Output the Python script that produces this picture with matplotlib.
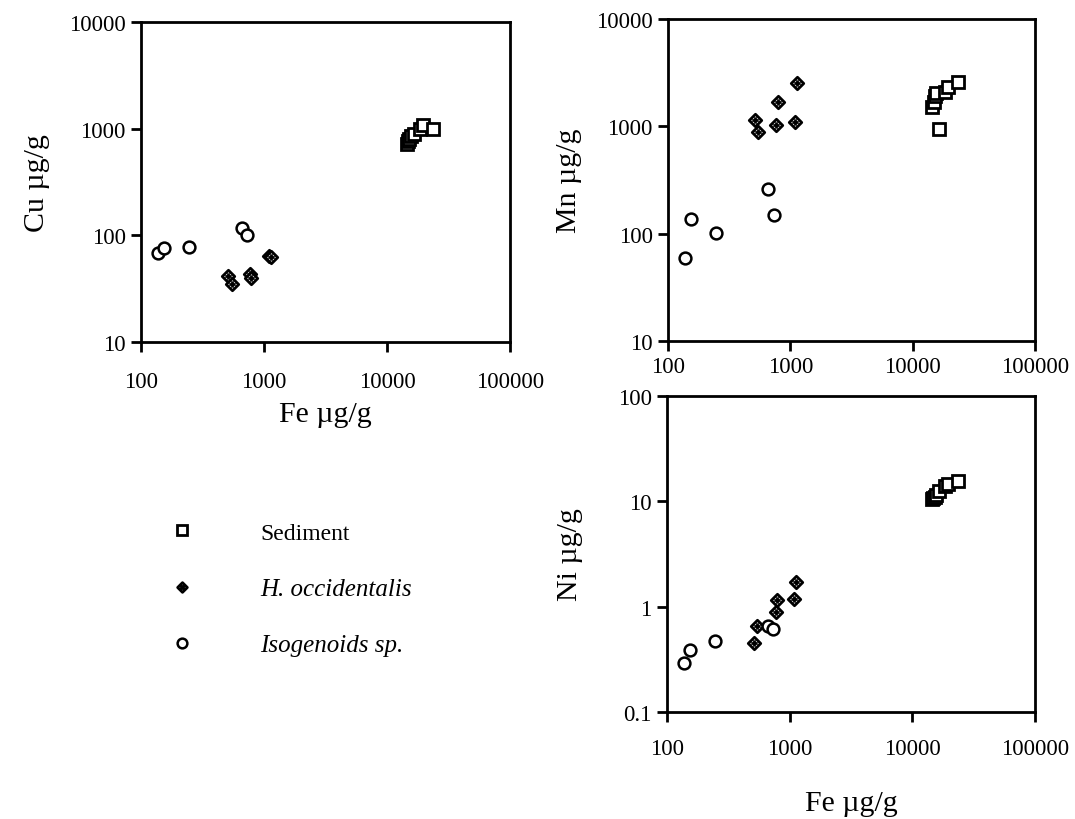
import matplotlib
matplotlib.use("Agg")
import matplotlib.pyplot as plt
from matplotlib.path import Path
from matplotlib.lines import Line2D
from matplotlib.ticker import FixedLocator, FixedFormatter, NullLocator

plt.rcParams['font.family'] = ['Liberation Serif', 'DejaVu Serif']

# ---------------- data ----------------
fe_sed = [14500, 14800, 15200, 15600, 16500, 18500, 19500, 23500]
cu_sed = [720, 760, 800, 850, 900, 1000, 1080, 1000]
mn_sed = [1500, 1700, 1900, 2050, 940, 2100, 2350, 2600]
ni_sed = [10.5, 10.8, 11.0, 11.5, 12.5, 14.0, 14.5, 15.5]

fe_hoc = [510, 545, 770, 790, 1090, 1130]
cu_hoc = [42, 35, 43, 40, 64, 62]
mn_hoc = [1145, 885, 1028, 1683, 1097, 2535]
ni_hoc = [0.45, 0.65, 0.88, 1.16, 1.18, 1.72]

fe_iso = [138, 155, 245, 660, 730]
cu_iso = [68, 76, 78, 117, 101]
mn_iso = [59, 137, 101, 261, 149]
ni_iso = [0.29, 0.39, 0.47, 0.66, 0.62]

x_ticks = [100, 1000, 10000, 100000]
x_labels = ["100", "1000", "10000", "100000"]
cu_ticks = [10, 100, 1000, 10000]
cu_labels = ["10", "100", "1000", "10000"]
mn_ticks = [10, 100, 1000, 10000]
mn_labels = ["10", "100", "1000", "10000"]
ni_ticks = [0.1, 1, 10, 100]
ni_labels = ["0.1", "1", "10", "100"]

series_names = ["Sediment", "H. occidentalis", "Isogenoids sp."]

# ---------------- markers ----------------
diamond_marker = Path(
    [(0, 1), (1, 0), (0, -1), (-1, 0), (0, 1),
     (-0.5, 0), (0.5, 0), (0, -0.5), (0, 0.5)],
    [Path.MOVETO, Path.LINETO, Path.LINETO, Path.LINETO, Path.CLOSEPOLY,
     Path.MOVETO, Path.LINETO, Path.MOVETO, Path.LINETO])

sty_sed = dict(marker='s', ms=8, mfc='white', mec='black', mew=2.0, ls='none')
sty_hoc = dict(marker=diamond_marker, ms=9, mfc='white', mec='black', mew=2.0, ls='none')
sty_iso = dict(marker='o', ms=8.5, mfc='white', mec='black', mew=1.8, ls='none')

fig = plt.figure(figsize=(10.75, 8.2), dpi=100)

def style_axes(ax, yticks, ylabels, ylim):
    ax.set_xscale('log')
    ax.set_yscale('log')
    ax.set_xlim(100, 100000)
    ax.set_ylim(*ylim)
    ax.xaxis.set_major_locator(FixedLocator(x_ticks))
    ax.xaxis.set_major_formatter(FixedFormatter(x_labels))
    ax.yaxis.set_major_locator(FixedLocator(yticks))
    ax.yaxis.set_major_formatter(FixedFormatter(ylabels))
    ax.xaxis.set_minor_locator(NullLocator())
    ax.yaxis.set_minor_locator(NullLocator())
    for s in ax.spines.values():
        s.set_linewidth(2.0)
    ax.tick_params(direction='out', length=7, width=2.0, labelsize=16.5)
    ax.tick_params(axis='x', pad=12)
    ax.tick_params(axis='y', pad=4)

# Top-left: Cu
ax1 = fig.add_axes([0.1312, 0.5817, 0.3433, 0.3903])
ax1.plot(fe_sed, cu_sed, **sty_sed)
ax1.plot(fe_hoc, cu_hoc, **sty_hoc)
ax1.plot(fe_iso, cu_iso, **sty_iso)
style_axes(ax1, cu_ticks, cu_labels, (10, 10000))
ax1.tick_params(axis='x', pad=14)
ax1.set_ylabel("Cu µg/g", fontsize=21.5, labelpad=14)
ax1.set_xlabel("Fe µg/g", fontsize=21.5, labelpad=6)

# Top-right: Mn
ax2 = fig.add_axes([0.6214, 0.5829, 0.3414, 0.3927])
ax2.plot(fe_sed, mn_sed, **sty_sed)
ax2.plot(fe_hoc, mn_hoc, **sty_hoc)
ax2.plot(fe_iso, mn_iso, **sty_iso)
style_axes(ax2, mn_ticks, mn_labels, (10, 10000))
ax2.tick_params(axis='x', pad=4)
ax2.set_ylabel("Mn µg/g", fontsize=21.5, labelpad=10)

# Bottom-right: Ni
ax3 = fig.add_axes([0.6205, 0.1305, 0.3423, 0.3854])
ax3.plot(fe_sed, ni_sed, **sty_sed)
ax3.plot(fe_hoc, ni_hoc, **sty_hoc)
ax3.plot(fe_iso, ni_iso, **sty_iso)
style_axes(ax3, ni_ticks, ni_labels, (0.1, 100))
ax3.set_ylabel("Ni µg/g", fontsize=21.5, labelpad=25)
ax3.set_xlabel("Fe µg/g", fontsize=21.5, labelpad=22)

# Legend
leg_sed = dict(sty_sed, ms=7)
leg_hoc = dict(sty_hoc, ms=7)
leg_iso = dict(sty_iso, ms=7)
handles = [Line2D([], [], **leg_sed), Line2D([], [], **leg_hoc), Line2D([], [], **leg_iso)]
leg = fig.legend(handles, series_names, loc='upper left',
                 bbox_to_anchor=(0.139, 0.388), frameon=False, fontsize=17,
                 labelspacing=1.45, handlelength=1.0, handletextpad=2.8)
for i, t in enumerate(leg.get_texts()):
    if i > 0:
        t.set_style('italic')
        t.set_fontsize(18)

fig.savefig("out.png", dpi=100)
